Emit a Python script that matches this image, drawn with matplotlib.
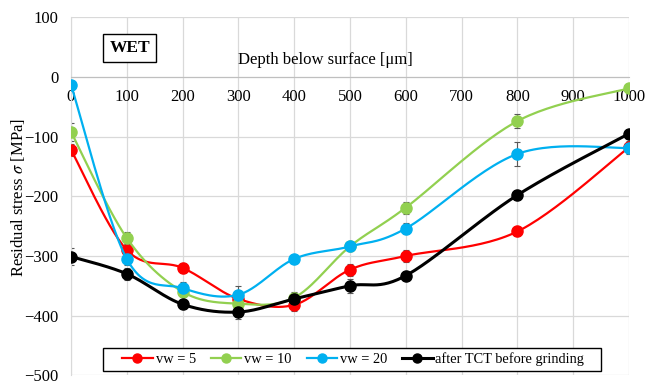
import matplotlib.pyplot as plt
import numpy as np
from matplotlib.lines import Line2D
from matplotlib.patches import Rectangle

# depth below surface (um)
depth = np.array([0, 100, 200, 300, 400, 500, 600, 800, 1000])

# residual stress (MPa)
vw5 = np.array([-122, -290, -320, -372, -382, -323, -300, -259, -118])
vw10 = np.array([-92, -270, -360, -380, -370, -284, -219, -74, -19])
vw20 = np.array([-13, -305, -354, -365, -305, -284, -254, -129, -119])
tct = np.array([-301, -330, -381, -394, -372, -350, -333, -198, -95])

# error bars (MPa)
err5 = np.array([10, 10, 8, 10, 10, 10, 10, 7, 10])
err10 = np.array([15, 10, 8, 8, 8, 8, 10, 12, 8])
err20 = np.array([5, 10, 10, 15, 5, 8, 10, 20, 10])
errtct = np.array([15, 10, 8, 12, 12, 12, 8, 8, 8])

labels = ['vw = 5', 'vw = 10', 'vw = 20', 'after TCT before grinding']
colors = ['#FF0000', '#92D050', '#00B0F0', '#000000']


def smooth(x, y, n=30, sy=1.075):
    # Excel-like smoothed line (Bezier through the points)
    px = np.asarray(x, float)
    py = np.asarray(y, float) * sy
    P = np.column_stack([px, py])
    out = []
    for i in range(len(P) - 1):
        p0 = P[i - 1] if i > 0 else P[i]
        p1, p2 = P[i], P[i + 1]
        p3 = P[i + 2] if i + 2 < len(P) else P[i + 1]
        c1 = p1 + (p2 - p0) / 6
        c2 = p2 - (p3 - p1) / 6
        t = np.linspace(0, 1, n)[:, None]
        seg = (1 - t) ** 3 * p1 + 3 * (1 - t) ** 2 * t * c1 + 3 * (1 - t) * t ** 2 * c2 + t ** 3 * p2
        out.append(seg if i == 0 else seg[1:])
    out = np.vstack(out)
    return out[:, 0], out[:, 1] / sy


plt.rcParams['font.family'] = ['Liberation Serif', 'DejaVu Serif']
plt.rcParams['mathtext.fontset'] = 'stix'
fs = 12

fig = plt.figure(figsize=(6.58, 3.84), dpi=100)
ax = fig.add_axes([0.1079, 0.0227, 0.8480, 0.9323])

series = [vw5, vw10, vw20, tct]
errs = [err5, err10, err20, errtct]
widths = [1.6, 1.6, 1.6, 2.2]
for k, (y, e, c, lw) in enumerate(zip(series, errs, colors, widths)):
    ax.errorbar(depth, y, yerr=e, fmt='none', ecolor='#595959', elinewidth=0.8,
                capsize=2.5, capthick=0.8, zorder=2 + k * 0.1)
    sx, sy = smooth(depth, y)
    ax.plot(sx, sy, color=c, linewidth=lw, zorder=3 + k * 0.1)
    ax.plot(depth, y, 'o', color=c, markersize=8, zorder=3.05 + k * 0.1)

ax.set_xlim(0, 1000)
ax.set_ylim(-500, 100)
ax.set_xticks(np.arange(0, 1001, 100))
ax.set_yticks(np.arange(-500, 101, 100))
ax.grid(True, color='#D9D9D9', linewidth=0.9)
ax.set_axisbelow(True)
for s in ['top', 'right']:
    ax.spines[s].set_visible(False)
ax.spines['bottom'].set_position(('data', 0))
ax.spines['bottom'].set_color('#BFBFBF')
ax.spines['left'].set_color('#D9D9D9')
ax.tick_params(axis='both', length=0, labelsize=fs)
ax.tick_params(axis='x', pad=9)
ax.tick_params(axis='y', pad=9)
for lab in ax.get_xticklabels():
    lab.set_zorder(5)

ax.text(456, 28, 'Depth below surface [μm]', fontsize=fs, ha='center', va='center')
ax.text(105, 48, 'WET', fontsize=12.5, fontweight='bold', ha='center', va='center',
        bbox=dict(boxstyle='square,pad=0.35', facecolor='white', edgecolor='black', linewidth=1))

fig.text(0.028, 0.486, r'Residual stress $\sigma$ [MPa]', rotation=90, fontsize=fs,
         ha='center', va='center')

# legend box
box = Rectangle((0.0573, 0.012), 0.8925, 0.0642, transform=ax.transAxes,
                facecolor='white', edgecolor='black', linewidth=1.0, zorder=6)
ax.add_patch(box)
handles = [Line2D([], [], color=c, linewidth=lw, marker='o', markersize=6.5)
           for c, lw in zip(colors, widths)]
leg = ax.legend(handles, labels, ncol=4, loc='center', bbox_to_anchor=(0.506, 0.044),
                borderaxespad=0, fontsize=10.4, frameon=False,
                handlelength=2.1, handletextpad=0.2, columnspacing=1.05, borderpad=0)
leg.set_zorder(7)

fig.savefig('out.png', dpi=100)
